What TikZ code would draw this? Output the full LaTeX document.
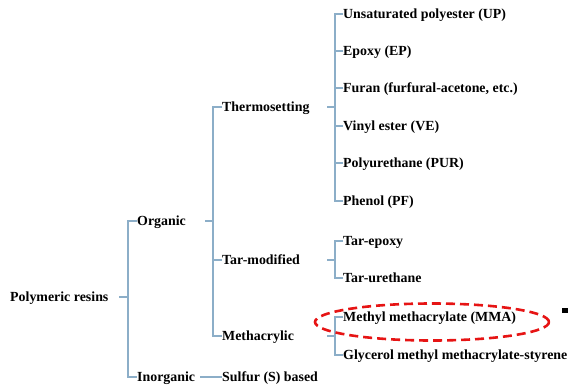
\documentclass[tikz,border=0pt]{standalone}
\usepackage{fontspec}
\usetikzlibrary{shapes.geometric}
\setmainfont{Liberation Serif}
\definecolor{branch}{RGB}{140,174,200}
\definecolor{mark}{RGB}{230,20,20}
\tikzset{
  lbl/.style={anchor=west, inner sep=0pt, text height=9.5pt, text depth=0pt,
    font=\fontsize{13.9}{16}\selectfont\bfseries},
  br/.style={draw=branch, line width=1.1pt},
  circ/.style={draw=mark, line width=2.6pt, dash pattern=on 9pt off 5pt}
}
\begin{document}
\begin{tikzpicture}[x=1pt,y=-1pt]
\useasboundingbox (0,0) rectangle (569,385);
% labels
\node[lbl] (root) at (10,297) {Polymeric resins};
\node[lbl] (org) at (137,221) {Organic};
\node[lbl] (inorg) at (137,377) {Inorganic};
\node[lbl] (thermo) at (222,107) {Thermosetting};
\node[lbl] (tar) at (222,260) {Tar-modified};
\node[lbl] (meth) at (222,336) {Methacrylic};
\node[lbl] (sulf) at (222,377) {Sulfur (S) based};
\node[lbl] (up) at (343,14) {Unsaturated polyester (UP)};
\node[lbl] (ep) at (343,51) {Epoxy (EP)};
\node[lbl] (fur) at (343,88) {Furan (furfural-acetone, etc.)};
\node[lbl] (ve) at (343,126) {Vinyl ester (VE)};
\node[lbl] (pur) at (343,163) {Polyurethane (PUR)};
\node[lbl] (pf) at (343,201) {Phenol (PF)};
\node[lbl] (te) at (343,241) {Tar-epoxy};
\node[lbl] (tu) at (343,278) {Tar-urethane};
\node[lbl] (mma) at (343,317) {Methyl methacrylate (MMA)};
\node[lbl] (gly) at (343,355) {Glycerol methyl methacrylate-styrene};
% stub coordinates
\coordinate (s0) at (119,297);
\coordinate (s1) at (205,221);
\coordinate (s2) at (327,107);
\coordinate (s3) at (327,260);
\coordinate (s4) at (327,336);
\coordinate (s5) at (200,377);
% level 1
\draw[br] (s0) -- (s0 -| 128,0);
\draw[br] (org.west) -- ++(-9,0) |- (inorg.west);
% level 2
\draw[br] (s1) -- (s1 -| 213,0);
\draw[br] (thermo.west) -- ++(-9,0) |- (meth.west);
\draw[br] (tar.west) -- ++(-9,0);
\draw[br] (s5) -- (sulf.west);
% level 3
\draw[br] (s2) -- (s2 -| 335,0);
\draw[br] (up.west) -- ++(-8,0) |- (pf.west);
\foreach \n in {ep,fur,ve,pur} \draw[br] (\n.west) -- ++(-8,0);
\draw[br] (s3) -- (s3 -| 335,0);
\draw[br] (te.west) -- ++(-8,0) |- (tu.west);
\draw[br] (s4) -- (s4 -| 335,0);
\draw[br] (mma.west) -- ++(-8,0) |- (gly.west);
% highlight
\node[circ, ellipse, minimum width=234pt, minimum height=37pt, inner sep=0pt] (hl) at (432,322) {};
\fill[black] (562,308) rectangle (568,313);
\end{tikzpicture}
\end{document}
